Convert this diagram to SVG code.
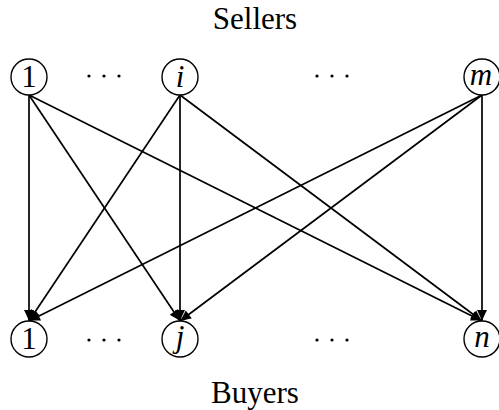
<svg xmlns="http://www.w3.org/2000/svg" width="499" height="410" viewBox="0 0 499 410">
  <style>
    .node circle { fill: #ffffff; stroke: #000000; stroke-width: 1.4; }
    .lbl { font-family: "Liberation Serif", "DejaVu Serif", serif; font-size: 31px; text-anchor: middle; fill: #000000; }
    .it { font-style: italic; }
    .title { font-family: "Liberation Serif", "DejaVu Serif", serif; font-size: 31px; text-anchor: middle; fill: #000000; }
    .edges line { stroke: #000000; stroke-width: 1.7; marker-end: url(#tip); }
    .dots circle { fill: #000000; }
  </style>
  <defs>
    <marker id="tip" viewBox="-12 -6 13 12" refX="0" refY="0" markerWidth="13" markerHeight="12" markerUnits="userSpaceOnUse" orient="auto">
      <path d="M0,0 C-3,-1.2 -8,-3.5 -11,-5 L-11,5 C-8,3.5 -3,1.2 0,0 Z" fill="#000000"/>
    </marker>
  </defs>

  <text class="title" x="255" y="29">Sellers</text>
  <text class="title" x="255" y="403">Buyers</text>

  <!-- connectors: every seller to every buyer -->
  <g id="edges" class="edges">
    <line x1="29" y1="95" x2="29" y2="321"/>
    <line x1="29" y1="95" x2="180" y2="321"/>
    <line x1="29" y1="95" x2="482" y2="321"/>
    <line x1="180" y1="95" x2="29" y2="321"/>
    <line x1="180" y1="95" x2="180" y2="321"/>
    <line x1="180" y1="95" x2="482" y2="321"/>
    <line x1="482" y1="95" x2="29" y2="321"/>
    <line x1="482" y1="95" x2="180" y2="321"/>
    <line x1="482" y1="95" x2="482" y2="321"/>
  </g>

  <!-- sellers -->
  <g id="seller-1" class="node">
    <circle cx="29" cy="77" r="18"/>
    <text class="lbl" x="29" y="87">1</text>
  </g>
  <g id="seller-i" class="node">
    <circle cx="180" cy="77" r="18"/>
    <text class="lbl it" x="180" y="87">i</text>
  </g>
  <g id="seller-m" class="node">
    <circle cx="482" cy="77" r="18"/>
    <text class="lbl it" x="481" y="85">m</text>
  </g>

  <!-- buyers -->
  <g id="buyer-1" class="node">
    <circle cx="29" cy="339" r="18"/>
    <text class="lbl" x="29" y="349">1</text>
  </g>
  <g id="buyer-j" class="node">
    <circle cx="180" cy="339" r="18"/>
    <text class="lbl it" x="180" y="347">j</text>
  </g>
  <g id="buyer-n" class="node">
    <circle cx="482" cy="339" r="18"/>
    <text class="lbl it" x="482" y="347">n</text>
  </g>

  <!-- ellipses between nodes -->
  <g id="ellipses" class="dots">
    <circle cx="89" cy="76" r="1.6"/><circle cx="104" cy="76" r="1.6"/><circle cx="119" cy="76" r="1.6"/>
    <circle cx="317" cy="76" r="1.6"/><circle cx="332" cy="76" r="1.6"/><circle cx="347" cy="76" r="1.6"/>
    <circle cx="89" cy="340" r="1.6"/><circle cx="104" cy="340" r="1.6"/><circle cx="119" cy="340" r="1.6"/>
    <circle cx="317" cy="340" r="1.6"/><circle cx="332" cy="340" r="1.6"/><circle cx="347" cy="340" r="1.6"/>
  </g>
</svg>
